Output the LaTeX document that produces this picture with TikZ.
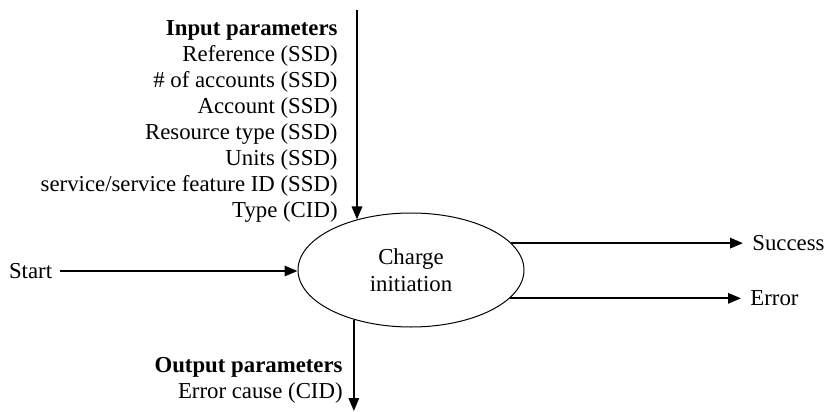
\documentclass[tikz,border=0pt]{standalone}
\usepackage{fontspec}
\setmainfont{Liberation Serif}
\usetikzlibrary{arrows.meta,positioning,shapes.geometric}

\begin{document}
\begin{tikzpicture}[x=0.5pt,y=-0.5pt,
  flow/.style={-{Triangle[length=6.5pt,width=5.2pt]},line width=1pt},
  lbl/.style={inner sep=0pt,font=\fontsize{11.4}{13}\selectfont},
  proc/.style={ellipse,draw,line width=0.5pt,minimum width=113pt,minimum height=57pt,
    align=center,inner sep=0pt,font=\fontsize{11.4}{13.5}\selectfont}]
  \useasboundingbox (0,0) rectangle (825,412);
  % Process
  \node[proc] (chg) at (411,270) {Charge\\initiation};
  % Parameter lists
  \node[lbl,align=right,anchor=east] (inp) at (338,121)
    {\textbf{Input parameters}\\Reference (SSD)\\\# of accounts (SSD)\\Account (SSD)\\
     Resource type (SSD)\\Units (SSD)\\service/service feature ID (SSD)\\Type (CID)};
  \node[lbl,align=right,anchor=east] (outp) at (343,380)
    {\textbf{Output parameters}\\Error cause (CID)};
  % Start and results
  \node[lbl,anchor=east,inner xsep=3.5pt] (start) at (59.5,271) {Start};
  \node[lbl,anchor=west] (succ) at (752,243) {Success};
  \node[lbl,anchor=west] (err) at (750,298) {Error};
  \coordinate (inTop) at (357,10);
  \coordinate (outEnd) at (355,411);
  % Flows
  \draw[flow] (inTop) -- (inTop |- chg.137);
  \draw[flow] (chg.221) -- (chg.221 |- outEnd);
  \draw[flow] (start.east) -- (start.east -| chg.west);
  \foreach \n/\a in {succ/15,err/-16}
    \draw[flow,shorten >=4.5pt] (chg.\a) -- (chg.\a -| \n.west);
\end{tikzpicture}
\end{document}
